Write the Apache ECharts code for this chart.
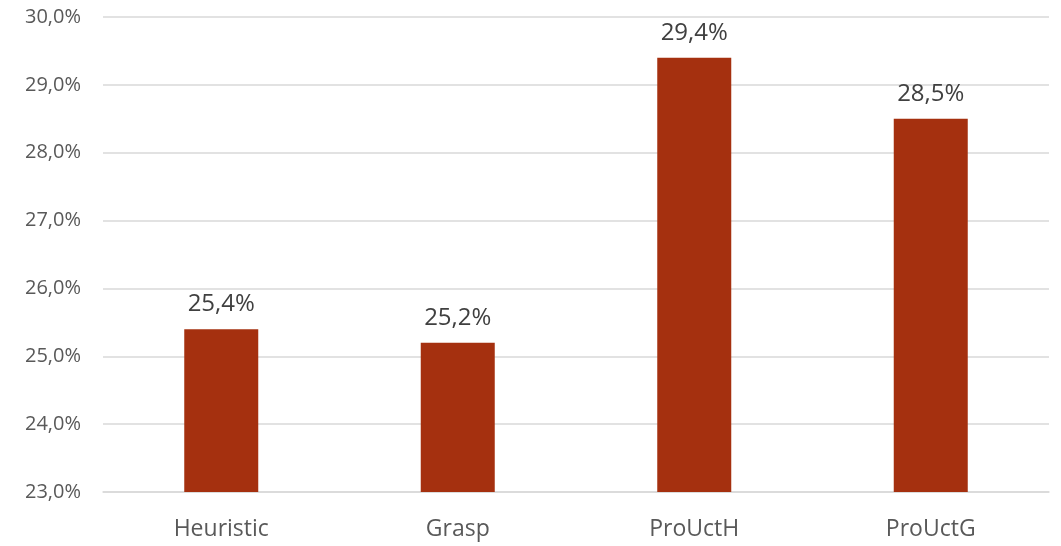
<!DOCTYPE html>
<html>
<head>
<meta charset="utf-8">
<script src="https://cdn.jsdelivr.net/npm/echarts@6/dist/echarts.min.js"></script>
<style>
  html, body { margin: 0; padding: 0; background: #ffffff; }
  #chart { width: 1061px; height: 546px; }
</style>
</head>
<body>
<div id="chart"></div>
<script>
// Share per method, in percent
const categories = ['Heuristic', 'Grasp', 'ProUctH', 'ProUctG'];
const values = [25.4, 25.2, 29.4, 28.5];

// Value axis range
const yMin = 23;
const yMax = 30;
const yStep = 1;

const fmt = v => v.toFixed(1).replace('.', ',') + '%';
const fontFamily = '"Open Sans", "Noto Sans", sans-serif';

const chart = echarts.init(document.getElementById('chart'), null, { renderer: 'canvas' });
chart.setOption({
  animation: false,
  backgroundColor: '#ffffff',
  grid: { left: 103, right: 12, top: 17, bottom: 54, containLabel: false },
  xAxis: {
    type: 'category',
    data: categories,
    axisLine: { show: true, lineStyle: { color: '#d9d9d9', width: 1.5 } },
    axisTick: { show: false },
    axisLabel: { color: '#595959', fontSize: 23, fontFamily, margin: 26 }
  },
  yAxis: {
    type: 'value',
    min: yMin,
    max: yMax,
    interval: yStep,
    axisLine: { show: false },
    axisTick: { show: false },
    splitLine: { lineStyle: { color: '#d9d9d9', width: 1.5 } },
    axisLabel: { color: '#595959', fontSize: 20, fontFamily, margin: 22, formatter: v => fmt(v) }
  },
  series: [{
    type: 'bar',
    data: values,
    barWidth: 74,
    itemStyle: { color: '#a5300f' },
    label: {
      show: true,
      position: 'top',
      distance: 13,
      color: '#404040',
      fontSize: 24,
      fontFamily,
      formatter: p => fmt(p.value)
    }
  }]
});
</script>
</body>
</html>
